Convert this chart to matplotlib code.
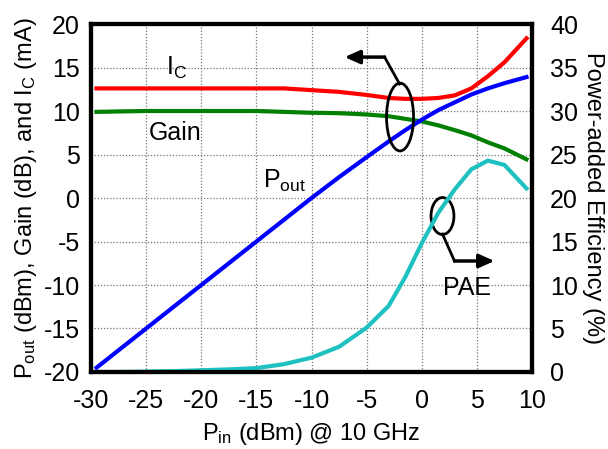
import matplotlib
matplotlib.use("Agg")
import matplotlib.pyplot as plt
from matplotlib.patches import Ellipse

plt.rcParams['font.family'] = ['Liberation Sans', 'DejaVu Sans']
plt.rcParams['mathtext.fontset'] = 'custom'
plt.rcParams['mathtext.rm'] = 'Liberation Sans'
plt.rcParams['mathtext.it'] = 'Liberation Sans:italic'
plt.rcParams['axes.unicode_minus'] = False

# input power (dBm)
pin = [-29.5, -27.5, -25, -22.5, -20, -17.5, -15, -12.5, -10, -7.5,
       -5, -3, -1.5, 0, 1.5, 3, 4.5, 6, 7.5, 9.5]
pout = [-19.5, -17.5, -15, -12.5, -10, -7.5, -5, -2.5, 0, 2.4,
        4.7, 6.5, 7.8, 9.0, 10.1, 11.0, 11.9, 12.6, 13.2, 13.9]
gain = [9.9, 9.95, 10.0, 10.0, 10.0, 10.0, 10.0, 9.9, 9.8, 9.75,
        9.6, 9.4, 9.1, 8.8, 8.35, 7.8, 7.2, 6.4, 5.7, 4.45]
ic = [12.6, 12.6, 12.6, 12.6, 12.6, 12.6, 12.6, 12.6, 12.4, 12.2,
      11.85, 11.5, 11.4, 11.4, 11.5, 11.8, 12.6, 14.0, 15.6, 18.35]
pae = [0, 0, 0.05, 0.1, 0.2, 0.3, 0.45, 0.9, 1.65, 2.9,
       5.1, 7.6, 10.9, 14.8, 18.3, 21.0, 23.3, 24.3, 23.8, 21.1]

xticks = list(range(-30, 11, 5))
lticks = list(range(-20, 21, 5))
rticks = list(range(0, 41, 5))

fig = plt.figure(figsize=(6.08, 4.49), dpi=100)
ax = fig.add_axes([0.1497, 0.1715, 0.7253, 0.775])
ax2 = ax.twinx()

ax.plot(pin, ic, color='#ff0000', lw=3)
ax.plot(pin, gain, color='#008000', lw=3)
ax.plot(pin, pout, color='#0000ff', lw=3)
ax2.plot(pin, pae, color='#1ec0c0', lw=3)

ax.set_xlim(-30, 10)
ax.set_ylim(-20, 20)
ax2.set_ylim(0, 40)
ax.set_xticks(xticks)
ax.set_yticks(lticks)
ax2.set_yticks(rticks)
ax.grid(True, color='#777777', linestyle=(0, (1, 1.5)), lw=0.9)

for a in (ax, ax2):
    for s in a.spines.values():
        s.set_linewidth(3)
    a.tick_params(labelsize=18, length=0)
ax.tick_params(axis='x', pad=12)
ax.tick_params(axis='y', pad=8)
ax2.tick_params(axis='y', pad=13)

ax.set_xlabel(r'P$_{\mathrm{in}}$ (dBm) @ 10 GHz', fontsize=17, labelpad=6)
ax.set_ylabel(r'P$_{\mathrm{out}}$ (dBm), Gain (dB), and I$_{\mathrm{C}}$ (mA)',
              fontsize=17, labelpad=3)
ax2.set_ylabel('Power-added Efficiency (%)', fontsize=17, rotation=270, labelpad=19)

# curve labels
ax.text(-22.2, 14.9, r'I$_{\mathrm{C}}$', fontsize=18, ha='center', va='center')
ax.text(-22.4, 7.5, 'Gain', fontsize=18, ha='center', va='center')
ax.text(-12.4, 2.0, r'P$_{\mathrm{out}}$', fontsize=18, ha='center', va='center')
ax.text(4.1, -10.3, 'PAE', fontsize=18, ha='center', va='center')

# ellipse + arrow pointing to left axis
ax.add_patch(Ellipse((-1.97, 9.31), 2.45, 7.8, fill=False, ec='black', lw=2, zorder=5))
ax.plot([-2.01, -3.37], [13.1, 16.2], color='black', lw=2, zorder=5)
ax.annotate('', xy=(-7.0, 16.2), xytext=(-3.37, 16.2),
            arrowprops=dict(arrowstyle='-|>,head_length=0.9,head_width=0.4',
                            color='black', lw=2.5, shrinkA=0, shrinkB=0), zorder=5)

# ellipse + arrow pointing to right axis
ax.add_patch(Ellipse((1.88, -2.07), 2.08, 4.25, fill=False, ec='black', lw=2, zorder=5))
ax.plot([1.88, 2.97], [-4.14, -7.24], color='black', lw=2, zorder=5)
ax.annotate('', xy=(6.6, -7.24), xytext=(2.97, -7.24),
            arrowprops=dict(arrowstyle='-|>,head_length=0.9,head_width=0.4',
                            color='black', lw=2.5, shrinkA=0, shrinkB=0), zorder=5)

fig.savefig('out.png', dpi=100)
